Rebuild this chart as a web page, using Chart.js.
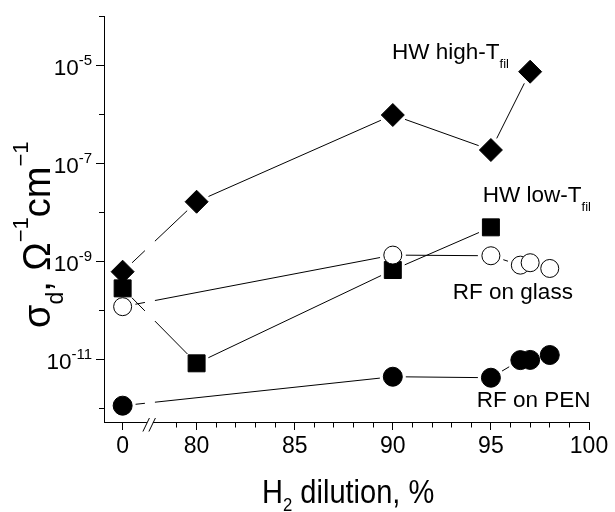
<!DOCTYPE html>
<html>
<head>
<meta charset="utf-8">
<script src="https://cdn.jsdelivr.net/npm/chart.js@4.4.1/dist/chart.umd.min.js"></script>
<style>
html,body{margin:0;padding:0;background:#fff;}
#c{display:block;}
</style>
</head>
<body>
<canvas id="c" width="615" height="512"></canvas>
<script>
// ---------------- data ----------------
const glassX = [0, 90, 95, 96.5, 97, 98];
const glassY = [1.18e-10, 1.33e-9, 1.29e-9, 8.3e-10, 9.3e-10, 7.1e-10];

const penX = [0, 90, 95, 96.5, 97, 98];
const penY = [1.13e-12, 4.4e-12, 4.2e-12, 9.6e-12, 9.7e-12, 1.22e-11];

const hwHighX = [0, 80, 90, 95, 97];
const hwHighY = [6.1e-10, 1.63e-8, 9.57e-7, 1.85e-7, 7.31e-6];

const hwLowX = [0, 80, 90, 95];
const hwLowY = [2.79e-10, 8.26e-12, 6.6e-10, 4.9e-9];

const xMajorTicks = [0, 80, 85, 90, 95, 100];
const xMinorTicks = [79, 81, 82, 83, 84, 86, 87, 88, 89, 91, 92, 93, 94, 96, 97, 98, 99];
const yDecades = [-12, -11, -10, -9, -8, -7, -6, -5, -4];
const yLabelled = [-11, -9, -7, -5];

// broken-axis mapping: "0" is drawn just left of the break
const ZERO_POS = 76.23;
const BREAK_POS = 77.62;
const mapX = v => (v === 0 ? ZERO_POS : v);

const FONT = '"Liberation Sans", Arial, Helvetica, sans-serif';

function toPts(xs, ys) { return xs.map((x, i) => ({ x: mapX(x), y: ys[i] })); }

// line gaps near markers and at the axis break (Origin style)
const GAP = 13, BREAK_HALF = 5;
function segDash(c) {
  const p0 = c.p0, p1 = c.p1;
  const dx = p1.x - p0.x, dy = p1.y - p0.y;
  const L = Math.hypot(dx, dy);
  if (L <= 2 * GAP) return [0, L + 1000];
  const bx = c.chart.scales.x.getPixelForValue(BREAK_POS);
  if (p0.x < bx && p1.x > bx) {
    const da = Math.max(GAP, (bx - BREAK_HALF - p0.x) / dx * L);
    const db = Math.min(L - GAP, (bx + BREAK_HALF - p0.x) / dx * L);
    return [0, GAP, Math.max(0, da - GAP), Math.max(0, db - da), Math.max(0, L - GAP - db), 1000];
  }
  return [0, GAP, L - 2 * GAP, 1000];
}

function ds(label, xs, ys, style, radius, fill) {
  return {
    label, data: toPts(xs, ys),
    borderColor: '#000', borderWidth: 1,
    pointStyle: style, pointRadius: radius, pointHoverRadius: radius,
    pointBackgroundColor: fill, pointBorderColor: '#000', pointBorderWidth: 1,
    tension: 0, fill: false, clip: false,
    segment: { borderDash: segDash }
  };
}

// ---------------- custom text drawing ----------------
function drawRich(ctx, x, y, parts) {
  // parts: [text, size, dy]
  let cx = x;
  for (const [t, size, dy] of parts) {
    ctx.font = size + 'px ' + FONT;
    ctx.fillText(t, cx, y + dy);
    cx += ctx.measureText(t).width;
  }
}

const labels = [
  { x: 89.96, e: -4.877, main: 'HW high-T' },
  { x: 94.59, e: -7.794, main: 'HW low-T' },
  { x: 93.06, e: -9.772, main: 'RF on glass', plain: true },
  { x: 94.28, e: -11.975, main: 'RF on PEN', plain: true }
];

const textPlugin = {
  id: 'texts',
  afterDatasetsDraw(chart) {
    const ctx = chart.ctx, xs = chart.scales.x, ys = chart.scales.y;
    ctx.save();
    ctx.fillStyle = '#000';
    ctx.textBaseline = 'alphabetic';
    ctx.textAlign = 'left';
    // series labels
    for (const l of labels) {
      const px = xs.getPixelForValue(l.x), py = ys.getPixelForValue(Math.pow(10, l.e));
      const parts = [[l.main, 22.5, 0]];
      if (!l.plain) parts.push(['fil', 13, 8.5]);
      drawRich(ctx, px, py, parts);
    }
    // y tick labels 10^n
    for (const e of yLabelled) {
      const py = ys.getPixelForValue(Math.pow(10, e));
      ctx.font = '22.5px ' + FONT;
      const w1 = ctx.measureText('10').width;
      ctx.font = '15px ' + FONT;
      const w2 = ctx.measureText(String(e)).width;
      const right = 92;
      drawRich(ctx, right - w1 - w2, py + 9.5, [['10', 22.5, 0], [String(e), 15, -9.5]]);
    }
    // x-axis title
    ctx.save();
    ctx.translate(262, 503);
    ctx.scale(0.88, 1);
    drawRich(ctx, 0, 0, [['H', 33, 0], ['2', 19, 8], [' dilution, %', 33, 0]]);
    ctx.restore();
    // y-axis title (rotated)
    ctx.save();
    ctx.translate(50, 328);
    ctx.rotate(-Math.PI / 2);
    drawRich(ctx, 0, 0, [['σ', 38, 0], ['d', 23, 13], [', ', 38, 0], ['Ω', 38, 0], ['−1', 22, -22], ['cm', 38, 0], ['−1', 22, -22]]);
    ctx.restore();
    // axis break marks
    const bx = xs.getPixelForValue(BREAK_POS);
    const ay = chart.chartArea.bottom + 0.5;
    ctx.fillStyle = '#fff';
    ctx.fillRect(bx - 3, ay - 1.5, 6, 3);
    ctx.strokeStyle = '#000';
    ctx.lineWidth = 1;
    ctx.beginPath();
    ctx.moveTo(bx - 7, ay + 9); ctx.lineTo(bx - 0.5, ay - 4.5);
    ctx.moveTo(bx - 1, ay + 9); ctx.lineTo(bx + 5.5, ay - 4.5);
    ctx.stroke();
    ctx.restore();
  }
};

const xTickVals = [ZERO_POS].concat(xMajorTicks.slice(1), xMinorTicks).sort((a, b) => a - b);
const isXMajor = v => v === ZERO_POS || xMajorTicks.includes(v);

new Chart(document.getElementById('c'), {
  type: 'line',
  data: {
    datasets: [
      ds('RF on glass', glassX, glassY, 'circle', 9, '#fff'),
      ds('RF on PEN', penX, penY, 'circle', 9.5, '#000'),
      ds('HW high-Tfil', hwHighX, hwHighY, 'rectRot', 11.5, '#000'),
      ds('HW low-Tfil', hwLowX, hwLowY, 'rect', 12, '#000')
    ]
  },
  options: {
    responsive: false,
    animation: false,
    devicePixelRatio: 1,
    events: [],
    layout: { padding: { top: 16, right: 26, left: 0, bottom: 0 } },
    plugins: { legend: { display: false }, tooltip: { enabled: false } },
    scales: {
      x: {
        type: 'linear', position: 'bottom', min: 75.28, max: 100,
        afterBuildTicks: s => { s.ticks = xTickVals.map(v => ({ value: v })); },
        afterFit: s => { s.height = 90; },
        grid: {
          drawOnChartArea: false, drawTicks: true, tickLength: 8,
          tickColor: '#000', tickWidth: 1,
          tickBorderDash: c => (c.tick && isXMajor(c.tick.value)) ? [] : [4.5, 100]
        },
        border: { display: true, color: '#000', width: 1 },
        ticks: {
          color: '#000', font: { family: FONT, size: 23 }, padding: 3,
          maxRotation: 0, autoSkip: false,
          callback: v => (v === ZERO_POS ? '0' : (xMajorTicks.includes(v) ? String(v) : ''))
        }
      },
      y: {
        type: 'logarithmic', position: 'left', min: 5.25e-13, max: 1e-4,
        afterBuildTicks: s => { s.ticks = yDecades.map(e => ({ value: Math.pow(10, e) })); },
        afterFit: s => { s.width = 104; },
        grid: {
          drawOnChartArea: false, drawTicks: true, tickLength: 8,
          tickColor: '#000', tickWidth: 1,
          tickBorderDash: c => {
            if (!c.tick) return [];
            const e = Math.round(Math.log10(c.tick.value));
            return yLabelled.includes(e) ? [] : [0, 3, 10];
          }
        },
        border: { display: true, color: '#000', width: 1 },
        ticks: { display: false }
      }
    }
  },
  plugins: [textPlugin]
});
</script>
</body>
</html>
